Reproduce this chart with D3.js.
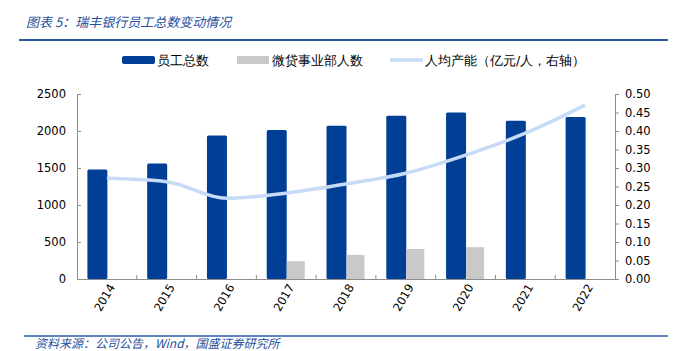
<!DOCTYPE html>
<html lang="zh">
<head>
<meta charset="UTF-8">
<script src="https://d3js.org/d3.v7.min.js"></script>
<style>
  body { margin: 0; background: #fff; }
  svg text { font-family: "DejaVu Sans", sans-serif; }
</style>
</head>
<body>
<svg id="chart" width="676" height="351"></svg>
<script>
const years = ["2014", "2015", "2016", "2017", "2018", "2019", "2020", "2021", "2022"];
const staffTotal = [1480, 1560, 1940, 2015, 2070, 2205, 2250, 2140, 2190];
const microLoanStaff = [null, null, null, 240, 325, 405, 430, null, null];
const perCapita = [0.272, 0.263, 0.218, 0.232, 0.257, 0.286, 0.335, 0.394, 0.47];
const leftTicks = [0, 500, 1000, 1500, 2000, 2500];
const rightTicks = [0, 0.05, 0.1, 0.15, 0.2, 0.25, 0.3, 0.35, 0.4, 0.45, 0.5];

const svg = d3.select("#chart");
const cjk = '"Noto Sans CJK SC", sans-serif';
const blue = "#003f95", grey = "#c9c9c9", lineBlue = "#c6dbf8", axisGrey = "#8c8c8c";

// header
svg.append("text").attr("x", 26).attr("y", 27)
  .attr("fill", "#1f4f9e").attr("font-size", 13).attr("font-style", "italic")
  .style("font-family", cjk).text("图表 5：瑞丰银行员工总数变动情况");
svg.append("line").attr("x1", 19).attr("x2", 668).attr("y1", 40).attr("y2", 40)
  .attr("stroke", "#2a5aa3").attr("stroke-width", 2);

// footer
svg.append("line").attr("x1", 24).attr("x2", 668).attr("y1", 336).attr("y2", 336)
  .attr("stroke", "#2a5aa3").attr("stroke-width", 1.5);
svg.append("text").attr("x", 35).attr("y", 348)
  .attr("fill", "#1f4f9e").attr("font-size", 12).attr("font-style", "italic")
  .style("font-family", cjk).text("资料来源：公司公告，Wind，国盛证券研究所");

const plotL = 77, plotR = 615, plotT = 94, plotB = 279;

const x = d3.scaleBand().domain(years).range([plotL, plotR]);
const yL = d3.scaleLinear().domain([0, 2500]).range([plotB, plotT]);
const yR = d3.scaleLinear().domain([0, 0.5]).range([plotB, plotT]);
const half = 19;

// bars
svg.append("g").selectAll("rect")
  .data(years.map((d, i) => ({ year: d, v: staffTotal[i] })))
  .join("rect")
  .attr("x", d => x(d.year) + x.bandwidth() / 2 - half - 0.5)
  .attr("width", half + 1)
  .attr("y", d => yL(d.v))
  .attr("height", d => plotB - yL(d.v))
  .attr("rx", 1.5)
  .attr("fill", blue);

svg.append("g").selectAll("rect")
  .data(years.map((d, i) => ({ year: d, v: microLoanStaff[i] })).filter(d => d.v != null))
  .join("rect")
  .attr("x", d => x(d.year) + x.bandwidth() / 2 + 0.5)
  .attr("width", half - 1)
  .attr("y", d => yL(d.v))
  .attr("height", d => plotB - yL(d.v))
  .attr("fill", grey);

// axes
const axL = svg.append("g").attr("transform", `translate(${plotL},0)`)
  .call(d3.axisLeft(yL).tickValues(leftTicks).tickSize(-4).tickPadding(11).tickFormat(d3.format("d")));
const axR = svg.append("g").attr("transform", `translate(${plotR},0)`)
  .call(d3.axisRight(yR).tickValues(rightTicks).tickSize(4).tickPadding(6).tickFormat(d3.format(".2f")));
const axB = svg.append("g").attr("transform", `translate(0,${plotB})`)
  .call(d3.axisBottom(x).tickSize(0).tickPadding(8));

[axL, axR, axB].forEach(g => {
  g.select(".domain").attr("stroke", axisGrey);
  g.selectAll(".tick line").attr("stroke", axisGrey);
  g.selectAll("text").attr("fill", "#000").attr("font-size", 11.5)
    .style("font-family", '"DejaVu Sans", sans-serif');
});

axB.selectAll("text")
  .attr("text-anchor", "end")
  .attr("dy", "0.35em")
  .attr("transform", "translate(-2,2) rotate(-60)");

// category separators (ticks between bands, pointing up)
svg.append("g").selectAll("line")
  .data(years.slice(1))
  .join("line")
  .attr("x1", d => x(d)).attr("x2", d => x(d))
  .attr("y1", plotB).attr("y2", plotB - 4)
  .attr("stroke", axisGrey);

// line series
const line = d3.line()
  .x((d, i) => x(years[i]) + x.bandwidth() / 2)
  .y(d => yR(d))
  .curve(d3.curveMonotoneX);
svg.append("path").datum(perCapita)
  .attr("d", line).attr("fill", "none")
  .attr("stroke", lineBlue).attr("stroke-width", 3.5);

// legend
const lg = svg.append("g").style("font-family", cjk).attr("font-size", 12.5);
lg.append("rect").attr("x", 122).attr("y", 56).attr("width", 33).attr("height", 8).attr("rx", 2).attr("fill", blue);
lg.append("text").attr("x", 157).attr("y", 64.5).text("员工总数");
lg.append("rect").attr("x", 237).attr("y", 56).attr("width", 32).attr("height", 8).attr("fill", grey);
lg.append("text").attr("x", 272).attr("y", 64.5).text("微贷事业部人数");
lg.append("line").attr("x1", 390).attr("x2", 423).attr("y1", 60).attr("y2", 60)
  .attr("stroke", lineBlue).attr("stroke-width", 3.5);
lg.append("text").attr("x", 425).attr("y", 64.5).text("人均产能（亿元/人，右轴）");
</script>
</body>
</html>
